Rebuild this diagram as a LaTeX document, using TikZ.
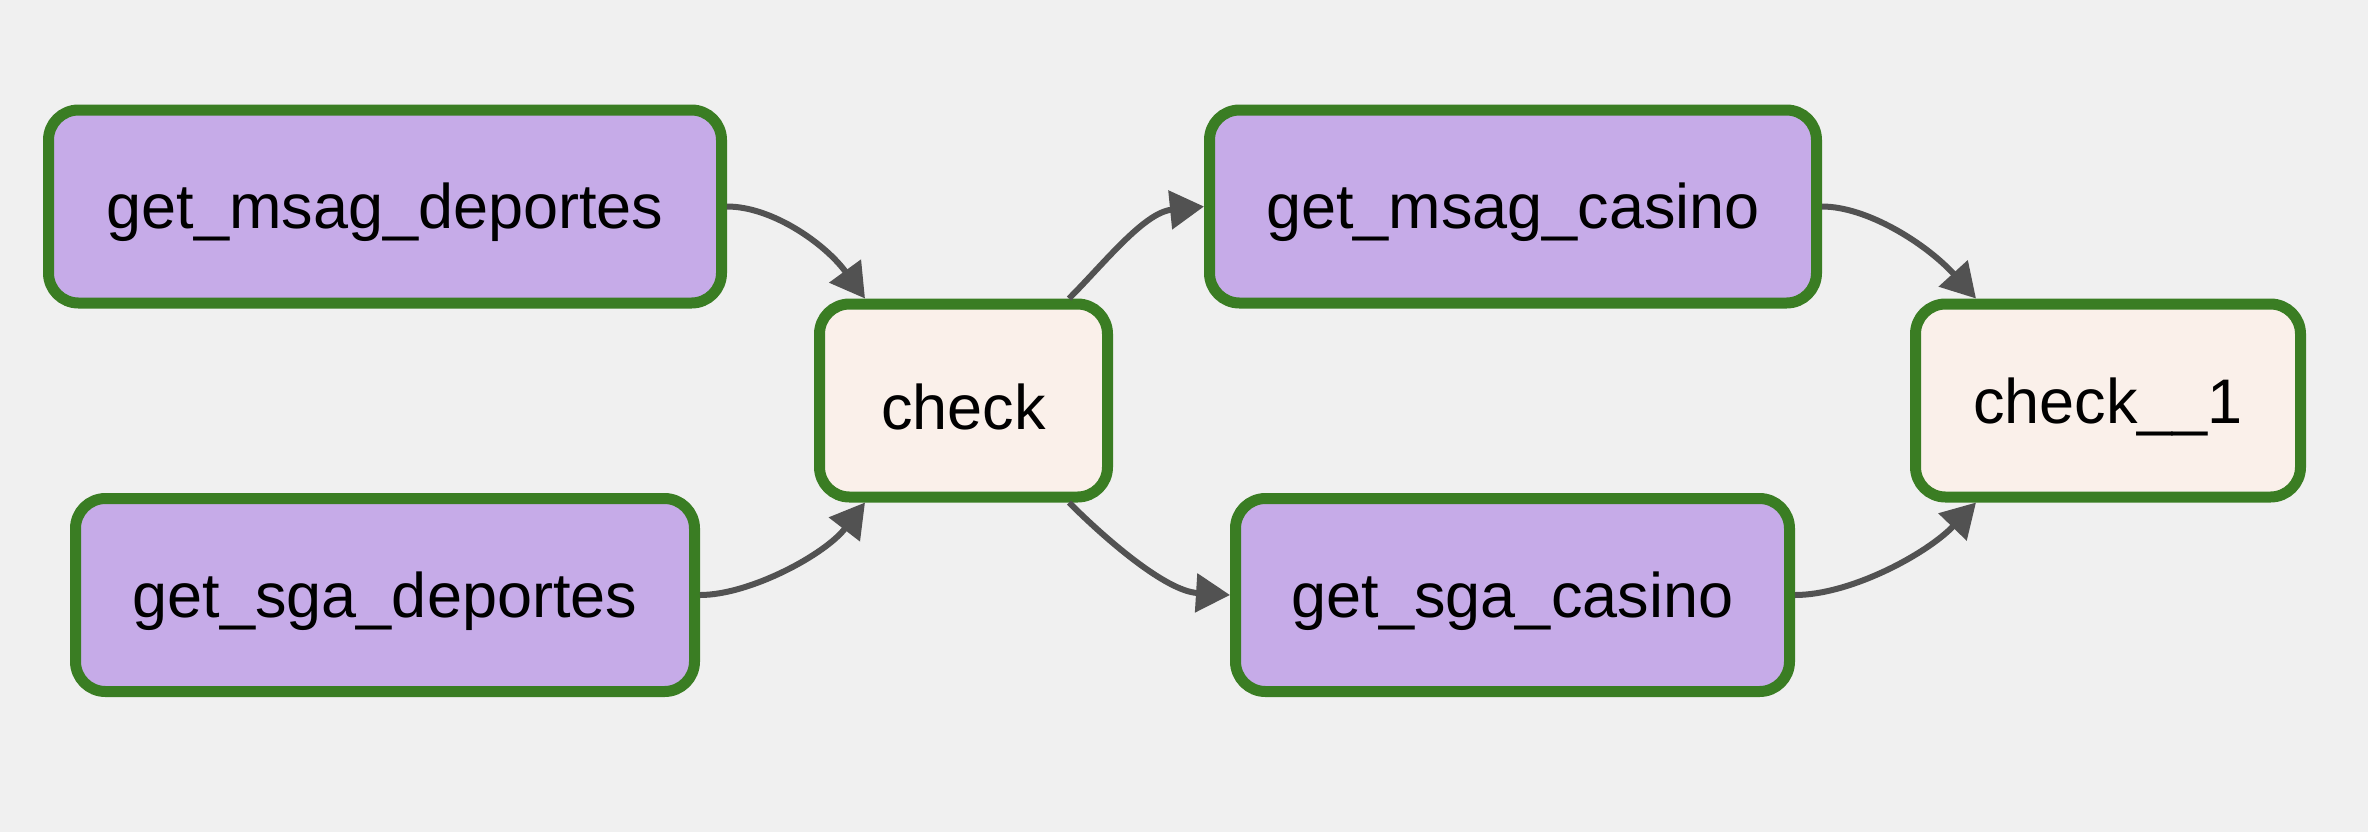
\documentclass[tikz,border=0pt]{standalone}
\usepackage{fontspec}
\setmainfont{Liberation Sans}
\usetikzlibrary{arrows.meta}
\definecolor{bgc}{HTML}{F0F0F0}
\definecolor{taskfill}{HTML}{C6ABE8}
\definecolor{checkfill}{HTML}{FAF0EA}
\definecolor{okgreen}{HTML}{3A7D23}
\definecolor{edgec}{HTML}{525252}
\newcommand{\lbl}[1]{\raisebox{-3pt}[\height][\depth]{#1}}
\tikzset{
  taskbox/.style={draw=okgreen, line width=5.5pt, rounded corners=15pt, fill=taskfill,
    minimum height=96.5pt, inner sep=0pt, font=\fontsize{31.5pt}{36pt}\selectfont},
  checkbox/.style={taskbox, fill=checkfill},
  flow/.style={draw=edgec, line width=3pt, -{Triangle[length=17pt,width=19pt]}}
}
\begin{document}
\begin{tikzpicture}[x=0.5pt,y=-0.5pt]
\fill[bgc] (0,0) rectangle (2368,832);
\useasboundingbox (0,0) rectangle (2368,832);
\node[taskbox, minimum width=336.5pt] (msd) at (385,206.5) {\lbl{get\_msag\_deportes}};
\node[taskbox, minimum width=309.5pt] (sgd) at (385,595) {\lbl{get\_sga\_deportes}};
\node[checkbox, minimum width=144pt] (chk) at (963.5,400.5) {\lbl{check}};
\node[taskbox, minimum width=303.5pt] (gmc) at (1513,206.5) {\lbl{get\_msag\_casino}};
\node[taskbox, minimum width=277pt] (gsc) at (1512.5,595) {\lbl{get\_sga\_casino}};
\node[checkbox, minimum width=192.5pt] (chkb) at (2108,400.5) {\lbl{check\_\_1}};
\coordinate (chkTin) at ([xshift=25.5pt]chk.north west);
\coordinate (chkBin) at ([xshift=25.5pt]chk.south west);
\coordinate (chkTout) at ([xshift=-22pt]chk.north east);
\coordinate (chkBout) at ([xshift=-22pt]chk.south east);
\coordinate (chkbTin) at ([xshift=33pt]chkb.north west);
\coordinate (chkbBin) at ([xshift=33pt]chkb.south west);
\draw[flow] (msd.east) .. controls +(45,0) and +(-40,-55) .. (chkTin);
\draw[flow] (sgd.east) .. controls +(50,0) and +(-40,52) .. (chkBin);
\draw[flow] (chkTout) .. controls +(35,-35) and +(-60,6) .. (gmc.west);
\draw[flow] (chkBout) .. controls +(35,35) and +(-65,-4) .. (gsc.west);
\draw[flow] (gmc.east) .. controls +(45,0) and +(-50,-55) .. (chkbTin);
\draw[flow] (gsc.east) .. controls +(55,0) and +(-50,52) .. (chkbBin);
\end{tikzpicture}
\end{document}
